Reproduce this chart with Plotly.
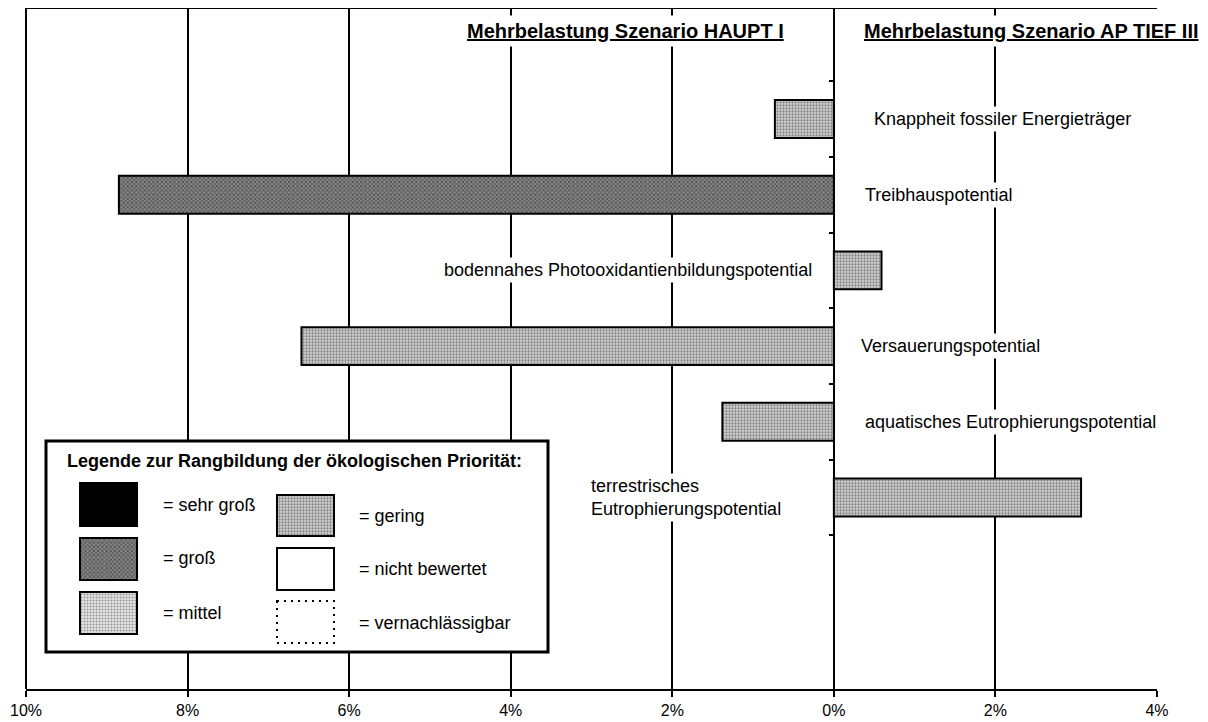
import plotly.graph_objects as go

# ---------------- data ----------------
categories = [
    "Knappheit fossiler Energieträger",
    "Treibhauspotential",
    "bodennahes Photooxidantienbildungspotential",
    "Versauerungspotential",
    "aquatisches Eutrophierungspotential",
    "terrestrisches<br>Eutrophierungspotential",
]
values = [-0.73, -8.85, 0.59, -6.59, -1.38, 3.06]
priority = ["gering", "groß", "gering", "gering", "gering", "gering"]
slot = [1, 2, 3, 4, 5, 6]
tick_vals = [-10, -8, -6, -4, -2, 0, 2, 4]
tick_text = ["10%", "8%", "6%", "4%", "2%", "0%", "2%", "4%"]
titles = ["Mehrbelastung Szenario HAUPT I", "Mehrbelastung Szenario AP TIEF III"]
legend_title = "Legende zur Rangbildung der ökologischen Priorität:"
legend_items = ["= sehr groß", "= groß", "= mittel", "= gering", "= nicht bewertet", "= vernachlässigbar"]

# ---------------- layout helpers (screen px; page body has an 8px margin) ----------------
OFF = 8
W, H = 1200, 714
L, R, T, B = 26, 1157, 8, 689          # plot area in screen px
FONT = "Liberation Sans, Arial, sans-serif"


def fx(px):
    return (px - L) / (R - L)


def fy(py):
    return (B - py) / (B - T)


# y range chosen so that category slot k is centred at 119 + 75.7*(k-1) px
SLOT = 75.7
y_top = 1 + (T - 119) / SLOT
y_bot = 1 + (B - 119) / SLOT

patterns = {
    "sehr groß": dict(color="black", pattern=None),
    "groß": dict(color="#7a7a7a", pattern=dict(shape="x", fgcolor="#111", bgcolor="#858585", size=3, solidity=0.45)),
    "mittel": dict(color="#dcdcdc", pattern=dict(shape=".", fgcolor="#444", bgcolor="#e4e4e4", size=3, solidity=0.35)),
    "gering": dict(color="#cfcfcf", pattern=dict(shape=".", fgcolor="#333", bgcolor="#d4d4d4", size=3, solidity=0.45)),
    "nicht bewertet": dict(color="white", pattern=None),
}

fig = go.Figure()

# main bars (one trace per bar so each can carry its own pattern)
for cat, v, p, s in zip(categories, values, priority, slot):
    st = patterns[p]
    marker = dict(color=st["color"], line=dict(color="black", width=2))
    if st["pattern"]:
        marker["pattern"] = st["pattern"]
    fig.add_trace(go.Bar(x=[v], y=[s], orientation="h", width=0.5, marker=marker,
                         name=cat.replace("<br>", " "), showlegend=False, hoverinfo="x+name"))

# ---------------- legend box (overlay axes in screen-pixel units) ----------------
box = (46, 441, 548, 652)  # x0, y0, x1, y1 in px
fig.add_trace(go.Bar(x=[box[2] - box[0]], base=[box[0]], y=[(box[1] + box[3]) / 2],
                     width=[box[3] - box[1]], orientation="h",
                     marker=dict(color="white", line=dict(color="black", width=3)),
                     xaxis="x2", yaxis="y2", showlegend=False, hoverinfo="skip"))

sw_col = [(80, 137), (80, 137), (80, 137), (277, 334), (277, 334), (277, 334)]
sw_rows = [(483, 526), (538, 580), (592, 634), (495, 536), (548, 590), (601, 643)]
sw_keys = ["sehr groß", "groß", "mittel", "gering", "nicht bewertet", None]
for (x0, x1), (y0, y1), key in zip(sw_col, sw_rows, sw_keys):
    if key is None:
        fig.add_shape(type="rect", xref="x2", yref="y2", x0=x0, x1=x1, y0=y0, y1=y1,
                      line=dict(color="black", width=2, dash="2px,5px"),
                      fillcolor="rgba(0,0,0,0)")
        continue
    st = patterns[key]
    marker = dict(color=st["color"], line=dict(color="black", width=2))
    if st["pattern"]:
        marker["pattern"] = st["pattern"]
    fig.add_trace(go.Bar(x=[x1 - x0], base=[x0], y=[(y0 + y1) / 2], width=[y1 - y0],
                         orientation="h", marker=marker, xaxis="x2", yaxis="y2",
                         showlegend=False, hoverinfo="skip"))

# legend texts
fig.add_annotation(text="<b>" + legend_title + "</b>", xref="paper", yref="paper",
                   x=fx(65), y=fy(461), xanchor="left", yanchor="middle", showarrow=False,
                   font=dict(family=FONT, size=18, color="black"))
txt_x = [161, 161, 161, 357, 357, 357]
txt_y = [505, 558, 613, 516, 569, 623]
for t, tx, ty in zip(legend_items, txt_x, txt_y):
    fig.add_annotation(text=t, xref="paper", yref="paper", x=fx(tx), y=fy(ty),
                       xanchor="left", yanchor="middle", showarrow=False,
                       font=dict(family=FONT, size=18, color="black"))

# ---------------- category labels ----------------
label_x = [871, 862, 815, 858, 862, 588]
label_anchor = ["left", "left", "right", "left", "left", "left"]
for cat, s, lx, an in zip(categories, slot, label_x, label_anchor):
    fig.add_annotation(text=cat, xref="paper", yref="y", x=fx(lx), y=s, xanchor=an,
                       yanchor="middle", align="left", showarrow=False, bgcolor="white",
                       borderpad=2, font=dict(family=FONT, size=18, color="black"))

# titles
for t, cx in zip(titles, [625, 1031]):
    fig.add_annotation(text="<b><u>" + t + "</u></b>", xref="paper", yref="paper",
                       x=fx(cx), y=fy(31), xanchor="center", yanchor="middle",
                       showarrow=False, bgcolor="white", borderpad=4,
                       font=dict(family=FONT, size=20, color="black"))

# frame: top and left lines
fig.add_shape(type="line", xref="paper", yref="paper", x0=0, x1=1, y0=1, y1=1,
              line=dict(color="black", width=2), layer="below")
fig.add_shape(type="line", xref="paper", yref="paper", x0=0, x1=0, y0=0, y1=1,
              line=dict(color="black", width=2), layer="below")

fig.update_layout(
    width=W, height=H,
    margin=dict(l=L - OFF, r=W - (R - OFF), t=T - OFF, b=H - (B - OFF)),
    paper_bgcolor="white", plot_bgcolor="rgba(0,0,0,0)",
    barmode="overlay",
    showlegend=False,
    xaxis=dict(range=[-10, 4], tickvals=tick_vals, ticktext=tick_text,
               showgrid=True, gridcolor="black", gridwidth=2,
               zeroline=False, showline=True, linecolor="black", linewidth=2,
               ticks="outside", ticklen=6, tickwidth=2, tickcolor="black",
               tickfont=dict(family=FONT, size=16, color="black"), fixedrange=True),
    yaxis=dict(range=[y_bot, y_top], anchor="free", position=10 / 14,
               tickvals=[0.5, 1.5, 2.5, 3.5, 4.5, 5.5, 6.5],
               showticklabels=False, ticks="outside", ticklen=5, tickwidth=2,
               tickcolor="black", showgrid=False, zeroline=False, showline=False,
               fixedrange=True),
    xaxis2=dict(range=[L, R], domain=[0, 1], anchor="y2", visible=False, fixedrange=True),
    yaxis2=dict(range=[B, T], domain=[0, 1], anchor="x2", visible=False, fixedrange=True),
)

fig.write_html("out.html")
